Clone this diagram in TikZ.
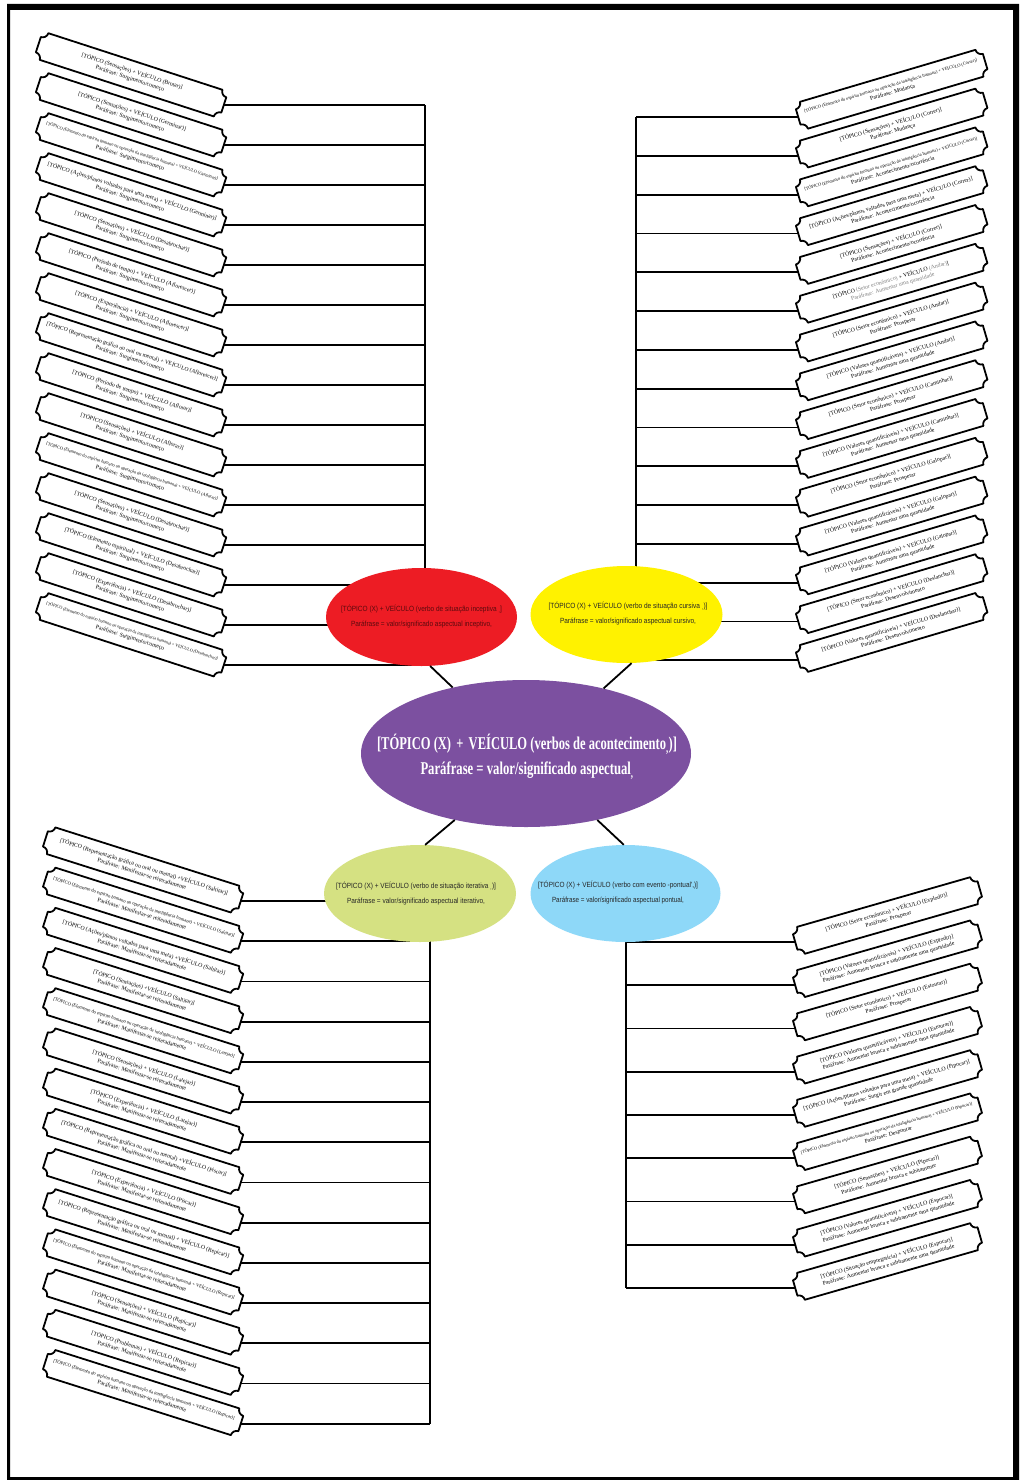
\documentclass[tikz,border=0pt]{standalone}
\usepackage{fontspec}
\setmainfont{Liberation Serif}
\newfontfamily\arialf{Liberation Sans}
\usetikzlibrary{shapes.geometric,calc}
\definecolor{cpurple}{RGB}{124,80,160}
\definecolor{cred}{RGB}{237,28,36}
\definecolor{cyellow}{RGB}{255,242,0}
\definecolor{cgreen}{RGB}{213,225,130}
\definecolor{cblue}{RGB}{142,216,248}
\definecolor{credtext}{RGB}{90,10,14}
\newcommand\fw{180pt}
\newcommand\fitl[1]{\resizebox{\ifdim\width>\fw \fw\else\width\fi}{!}{#1}}
\newcommand\fitw[2]{\resizebox{#1}{\height}{#2}}
\newcommand\tb{14}
\newcommand\tr{6}
\tikzset{
  tagline/.style={line width=1.8pt, line join=round},
  conn/.style={line width=1.8pt},
  tagtext/.style={inner sep=0pt, minimum height=28pt, align=center,
    font=\fontsize{5.8}{7.2}\selectfont},
  bubble/.style={ellipse, inner sep=0pt},
  smalltext/.style={inner sep=0pt, align=center, font=\arialf\fontsize{7.5}{15}\selectfont},
}
% #1 name #2 anchor #3 pos #4 angle #5 half length #6 line1 #7 line2
\newcommand\tagbox[7]{%
  \node[tagtext, rotate=#4, anchor=#2, minimum width=2*#5*1pt] (#1) at #3 {\fitl{#6}\\\fitl{#7}};
  \begin{scope}[shift={(#1.center)}, rotate=#4, x=1pt, y=1pt]
    \draw[tagline] ({-#5+\tr},\tb) -- ({#5-\tr},\tb)
      arc[start angle=180,end angle=270,radius=\tr] -- (#5,{-\tb+\tr})
      arc[start angle=90,end angle=180,radius=\tr] -- ({-#5+\tr},-\tb)
      arc[start angle=0,end angle=90,radius=\tr] -- (-#5,{\tb-\tr})
      arc[start angle=270,end angle=360,radius=\tr] -- cycle;
  \end{scope}}
\newcommand\TL[4]{\tagbox{#1}{east}{(224,#2)}{-18}{97.5}{#3}{#4}\draw[conn] (#1.east) -- (#1.east -| vTL);}
\newcommand\TR[4]{\tagbox{#1}{west}{(798,#2)}{16.5}{97.5}{#3}{#4}\draw[conn] (#1.west) -- (#1.west -| vTR);}
\newcommand\BL[4]{\tagbox{#1}{east}{(241,#2)}{-17.6}{102.5}{#3}{#4}\draw[conn] (#1.east) -- (#1.east -| vBL);}
\newcommand\BR[4]{\tagbox{#1}{west}{(795,#2)}{16}{96}{#3}{#4}\draw[conn] (#1.west) -- (#1.west -| vBR);}
\newcommand\Sc{Paráfrase: Surgimento/começo}
\newcommand\Mr{Paráfrase: Manifestar-se reiteradamente}
\newcommand\El{Elemento do espírito humano ou operação da inteligência humana}
\begin{document}
\begin{tikzpicture}[x=1pt,y=-1pt]
\useasboundingbox (0,0) rectangle (1026,1480);
\fill[white] (0,0) rectangle (1026,1480);
\fill[black, even odd rule] (7,4) rectangle (1019,1480) (10,10) rectangle (1013,1477);
\coordinate (vTL) at (425,0);
\coordinate (vTR) at (636,0);
\coordinate (vBL) at (430,0);
\coordinate (vBR) at (626,0);
% top left
\TL{tl1}{105}{[TÓPICO (Sensações) + VEÍCULO (Brotar)]}{\Sc}
\TL{tl2}{145}{[TÓPICO (Sensações) + VEÍCULO (Germinar)]}{\Sc}
\TL{tl3}{185}{[TÓPICO (\El) + VEÍCULO (Germinar)]}{\Sc}
\TL{tl4}{225}{[TÓPICO (Ações/planos voltados para uma meta) + VEÍCULO (Germinar)]}{\Sc}
\TL{tl5}{265}{[TÓPICO (Sensações) + VEÍCULO (Desabrochar)]}{\Sc}
\TL{tl6}{305}{[TÓPICO (Período de tempo) + VEÍCULO (Aflorescer)]}{\Sc}
\TL{tl7}{345}{[TÓPICO (Experiência) + VEÍCULO (Aflorescer)]}{\Sc}
\TL{tl8}{385}{[TÓPICO (Representação gráfica ou oral ou mental) + VEÍCULO (Aflorescer)]}{\Sc}
\TL{tl9}{425}{[TÓPICO (Período de tempo) + VEÍCULO (Aflorar)]}{\Sc}
\TL{tl10}{465}{[TÓPICO (Sensações) + VEÍCULO (Aflorar)]}{\Sc}
\TL{tl11}{505}{[TÓPICO (\El) + VEÍCULO (Aflorar)]}{\Sc}
\TL{tl12}{545}{[TÓPICO (Sensações) + VEÍCULO (Desabrochar)]}{\Sc}
\TL{tl13}{585}{[TÓPICO (Elemento espiritual) + VEÍCULO (Desabrochar)]}{\Sc}
\TL{tl14}{625}{[TÓPICO (Experiência) + VEÍCULO (Desabrochar)]}{\Sc}
\TL{tl15}{665}{[TÓPICO (\El) + VEÍCULO (Desabrochar)]}{\Sc}
\draw[conn] (tl1.east -| vTL) -- (tl15.east -| vTL);
% top right
\TR{tr1}{117}{[TÓPICO (\El) + VEÍCULO (Correr)]}{Paráfrase: Mudança}
\TR{tr2}{155.8}{[TÓPICO (Sensações) + VEÍCULO (Correr)]}{Paráfrase: Mudança}
\TR{tr3}{194.6}{[TÓPICO (\El) + VEÍCULO (Correr)]}{Paráfrase: Acontecimento/ocorrência}
\TR{tr4}{233.4}{[TÓPICO (Ações/planos voltados para uma meta) + VEÍCULO (Correr)]}{Paráfrase: Acontecimento/ocorrência}
\TR{tr5}{272.2}{[TÓPICO (Sensações) + VEÍCULO (Correr)]}{Paráfrase: Acontecimento/ocorrência}
\TR{tr6}{311}{[TÓPICO \textcolor{gray}{(Setor econômico)} + VEÍCULO \textcolor{gray}{(Andar)}]}{\textcolor{gray}{Paráfrase: Aumentar uma quantidade}}
\TR{tr7}{349.8}{[TÓPICO (Setor econômico) + VEÍCULO (Andar)]}{Paráfrase: Prosperar}
\TR{tr8}{388.6}{[TÓPICO (Valores quantificáveis) + VEÍCULO (Andar)]}{Paráfrase: Aumentar uma quantidade}
\TR{tr9}{427.4}{[TÓPICO (Setor econômico) + VEÍCULO (Caminhar)]}{Paráfrase: Prosperar}
\TR{tr10}{466.2}{[TÓPICO (Valores quantificáveis) + VEÍCULO (Caminhar)]}{Paráfrase: Aumentar uma quantidade}
\TR{tr11}{505}{[TÓPICO (Setor econômico) + VEÍCULO (Galopar)]}{Paráfrase: Prosperar}
\TR{tr12}{543.8}{[TÓPICO (Valores quantificáveis) + VEÍCULO (Galopar)]}{Paráfrase: Aumentar uma quantidade}
\TR{tr13}{582.6}{[TÓPICO (Valores quantificáveis) + VEÍCULO (Galopar)]}{Paráfrase: Aumentar uma quantidade}
\TR{tr14}{621.4}{[TÓPICO (Setor econômico) + VEÍCULO (Deslanchar)]}{Paráfrase: Desenvolvimento}
\TR{tr15}{660.2}{[TÓPICO (Valores quantificáveis) + VEÍCULO (Deslanchar)]}{Paráfrase: Desenvolvimento}
\draw[conn] (tr1.west -| vTR) -- (tr15.west -| vTR);
% bottom left
\renewcommand\fw{190pt}
\BL{bl1}{901}{[TÓPICO (Representação gráfica ou oral ou mental) +VEÍCULO (Saltitar)]}{\Mr}
\BL{bl2}{941.2}{[TÓPICO (\El) + VEÍCULO (Saltitar)]}{\Mr}
\BL{bl3}{981.4}{[TÓPICO (Ações/planos voltados para uma meta) +VEÍCULO (Saltitar)]}{\Mr}
\BL{bl4}{1021.6}{[TÓPICO (Sensações) +VEÍCULO (Saltitar)]}{\Mr}
\BL{bl5}{1061.8}{[TÓPICO (\El) + VEÍCULO (Latejar)]}{\Mr}
\BL{bl6}{1102}{[TÓPICO (Sensações) + VEÍCULO (Latejar)]}{\Mr}
\BL{bl7}{1142.2}{[TÓPICO (Experiência) + VEÍCULO (Latejar)]}{\Mr}
\BL{bl8}{1182.4}{[TÓPICO (Representação gráfica ou oral ou mental) +VEÍCULO (Piscar)]}{\Mr}
\BL{bl9}{1222.6}{[TÓPICO (Experiência) + VEÍCULO (Piscar)]}{\Mr}
\BL{bl10}{1262.8}{[TÓPICO (Representação gráfica ou oral ou mental) + VEÍCULO (Repicar)]}{\Mr}
\BL{bl11}{1303}{[TÓPICO (\El) + VEÍCULO (Repicar)]}{\Mr}
\BL{bl12}{1343.2}{[TÓPICO (Sensações) + VEÍCULO (Repicar)]}{\Mr}
\BL{bl13}{1383.4}{[TÓPICO (Problemas) + VEÍCULO (Repicar)]}{\Mr}
\BL{bl14}{1423.6}{[TÓPICO (\El) + VEÍCULO (Repicar)]}{\Mr}
\draw[conn] (bl1.east -| vBL) -- (bl14.east -| vBL);
% bottom right
\renewcommand\fw{178pt}
\BR{br1}{942}{[TÓPICO (Setor econômico) + VEÍCULO (Explodir)]}{Paráfrase: Prosperar}
\BR{br2}{985.25}{[TÓPICO (Valores quantificáveis) + VEÍCULO (Explodir)]}{Paráfrase: Aumentar brusca e subitamente uma quantidade}
\BR{br3}{1028.5}{[TÓPICO (Setor econômico) + VEÍCULO (Estourar)]}{Paráfrase: Prosperar}
\BR{br4}{1071.75}{[TÓPICO (Valores quantificáveis) + VEÍCULO (Estourar)]}{Paráfrase: Aumentar brusca e subitamente uma quantidade}
\BR{br5}{1115}{[TÓPICO (Ações/planos voltados para uma meta) + VEÍCULO (Pipocar)]}{Paráfrase: Surgir em grande quantidade}
\BR{br6}{1158.25}{[TÓPICO (\El) + VEÍCULO (Pipocar)]}{Paráfrase: Despontar}
\BR{br7}{1201.5}{[TÓPICO (Sensações) + VEÍCULO (Pipocar)]}{Paráfrase: Aumentar brusca e subitamente}
\BR{br8}{1244.75}{[TÓPICO (Valores quantificáveis) + VEÍCULO (Espocar)]}{Paráfrase: Aumentar brusca e subitamente uma quantidade}
\BR{br9}{1288}{[TÓPICO (Situação empregatícia) + VEÍCULO (Espocar)]}{Paráfrase: Aumentar brusca e subitamente uma quantidade}
\draw[conn] (br1.west -| vBR) -- (br9.west -| vBR);
% bubbles
\node[bubble, fill=cred, minimum width=191pt, minimum height=98pt] (inc) at (421.5,617) {};
\node[bubble, fill=cyellow, minimum width=192pt, minimum height=97pt] (cur) at (626.5,614.5) {};
\node[bubble, fill=cpurple, minimum width=330pt, minimum height=147pt] (main) at (526,753.5) {};
\node[bubble, fill=cgreen, minimum width=192pt, minimum height=97pt] (ite) at (420,893.5) {};
\node[bubble, fill=cblue, minimum width=190pt, minimum height=97pt] (pon) at (625.5,893.5) {};
\node[smalltext, text=credtext] (inct) at (421.5,617) {\fitw{161pt}{[TÓPICO (X) + VEÍCULO (verbo de situação inceptiva \textsubscript{,}]}\\\fitw{141pt}{Paráfrase = valor/significado aspectual inceptivo,}};
\node[smalltext, text=black!85] (curt) at (628,614) {\fitw{159pt}{[TÓPICO (X) + VEÍCULO (verbo de situação cursiva \textsubscript{,})]}\\\fitw{136pt}{Paráfrase = valor/significado aspectual cursivo,}};
\node[smalltext, text=black!85] (itet) at (416,893.5) {\fitw{160pt}{[TÓPICO (X) + VEÍCULO (verbo de situação iterativa \textsubscript{,})]}\\\fitw{138pt}{Paráfrase = valor/significado aspectual iterativo,}};
\node[smalltext, text=black!85] (pont) at (618,893) {\fitw{160pt}{[TÓPICO (X) + VEÍCULO (verbo com evento -pontual',)]}\\\fitw{132pt}{Paráfrase = valor/significado aspectual pontual,}};
\node[inner sep=0pt, align=center, text=white, font=\bfseries\fontsize{18}{25}\selectfont] (maint) at (527,757) {\fitw{300pt}{[TÓPICO (X) \,+\, VEÍCULO (verbos de acontecimento\textsubscript{,})]}\\\fitw{213pt}{Paráfrase = valor/significado aspectual\textsubscript{,}}};
% links
\draw[conn] (inc.-80) -- (main.138);
\draw[conn] (cur.-84) -- (main.40);
\draw[conn] (main.-137) -- (ite.84);
\draw[conn] (main.-43) -- (pon.92);
\end{tikzpicture}
\end{document}
